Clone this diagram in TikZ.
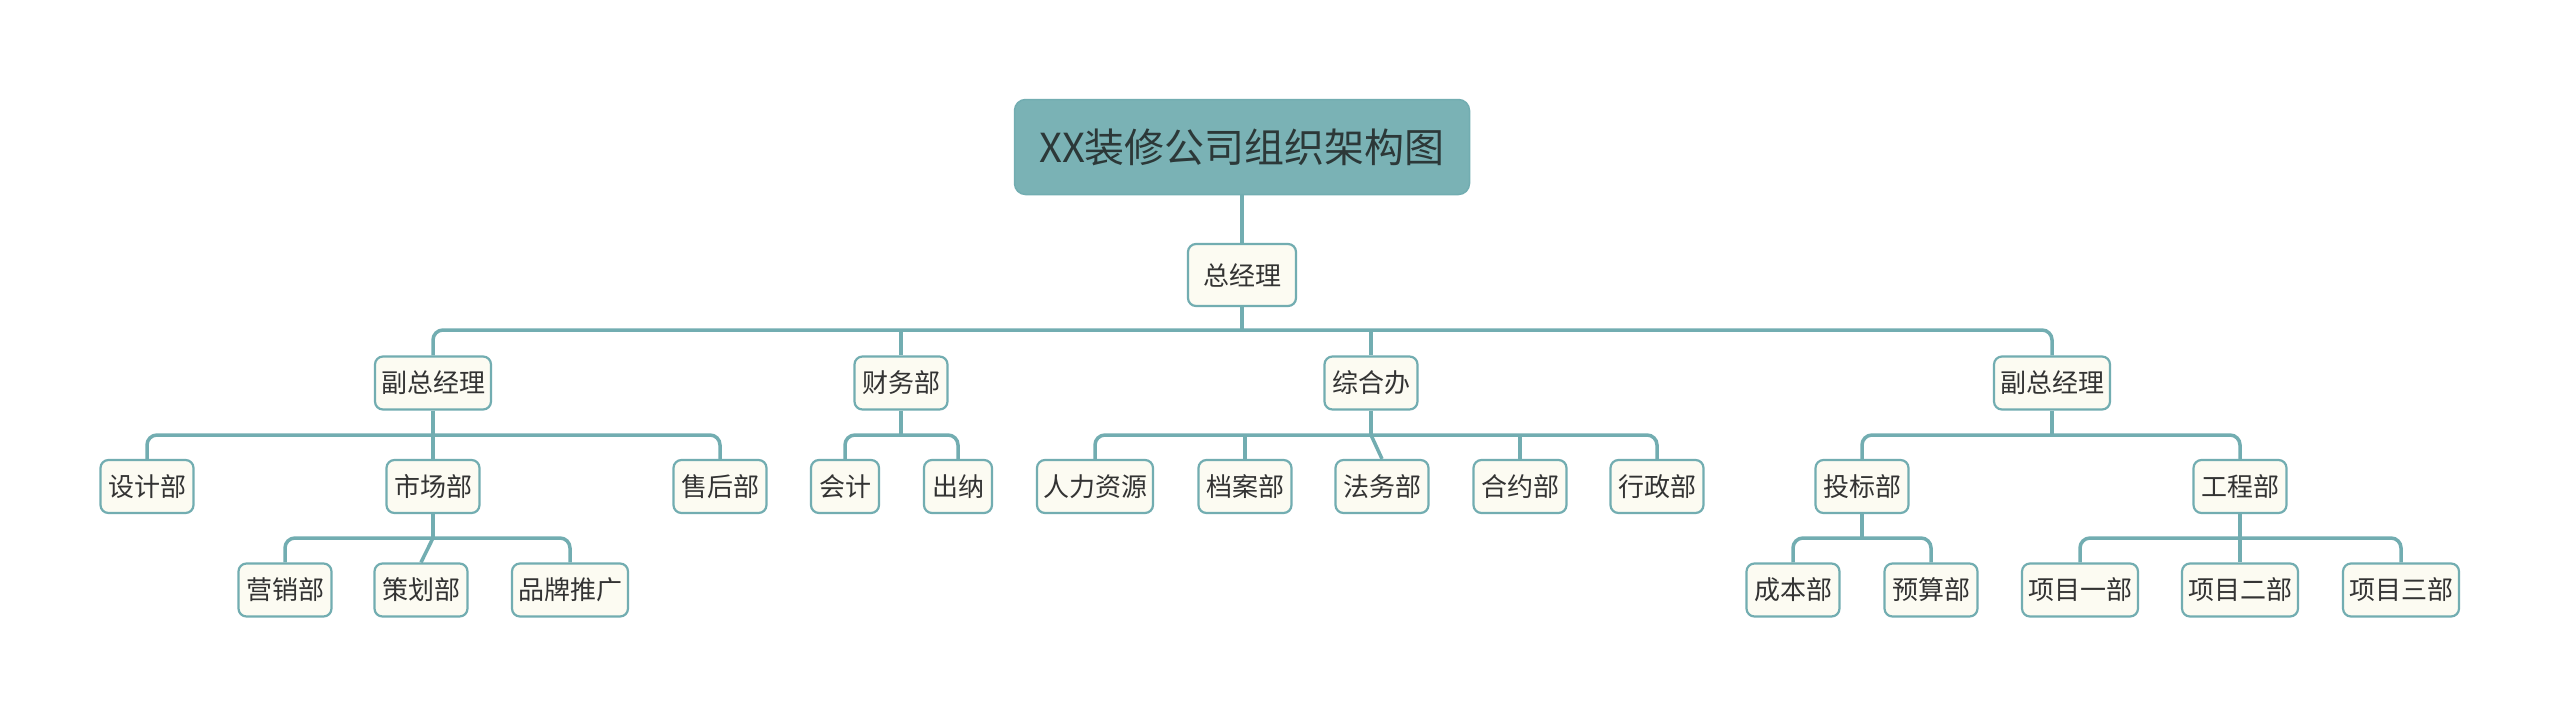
\documentclass[tikz,border=0pt]{standalone}
\usepackage{fontspec}
\newfontfamily\cjk{Noto Sans CJK SC}
\definecolor{rootfill}{HTML}{7AB2B5}
\definecolor{linec}{HTML}{72ADB1}
\definecolor{cream}{HTML}{FCFBF2}
\definecolor{txt}{HTML}{333333}
\definecolor{roottxt}{HTML}{2C3838}
\pgfdeclarelayer{bg}
\pgfsetlayers{bg,main}
\begin{document}
\begin{tikzpicture}[x=1pt,y=-1pt,
  box/.style={draw=linec, line width=2.2pt, fill=cream, rounded corners=8pt,
    font=\cjk\fontsize{26}{30}\selectfont, text=txt, inner xsep=0pt, inner ysep=0pt,
    minimum height=53pt, minimum width=93pt},
  w2/.style={minimum width=68pt},
  w4/.style={minimum width=116pt},
  rootbox/.style={draw=linec, line width=1.5pt, fill=rootfill, rounded corners=11pt,
    font=\cjk\fontsize{40}{46}\selectfont, text=roottxt, inner sep=0pt,
    minimum width=455pt, minimum height=95pt},
  conn/.style={draw=linec, line width=3.5pt, rounded corners=10pt}]
\useasboundingbox (0,0) rectangle (2560,718);

\coordinate (b0) at (0,330);
\coordinate (b1) at (0,435);
\coordinate (b2) at (0,538);

\node[rootbox] (root) at (1242,147) {XX装修公司组织架构图};
\node[box, minimum width=108pt, minimum height=62pt] (gm) at (1242,275) {总经理};

\node[box,w4] (vp1) at (433,383) {副总经理};
\node[box] (fin) at (901,383) {财务部};
\node[box] (adm) at (1371,383) {综合办};
\node[box,w4] (vp2) at (2052,383) {副总经理};

\node[box] (des) at (147,486.5) {设计部};
\node[box] (mkt) at (433,486.5) {市场部};
\node[box] (aft) at (720,486.5) {售后部};
\node[box,w2] (acc) at (845,486.5) {会计};
\node[box,w2] (cash) at (958,486.5) {出纳};
\node[box,w4] (hr) at (1095,486.5) {人力资源};
\node[box] (arc) at (1245,486.5) {档案部};
\node[box] (law) at (1382,486.5) {法务部};
\node[box] (con) at (1520,486.5) {合约部};
\node[box] (xz) at (1657,486.5) {行政部};
\node[box] (bid) at (1862,486.5) {投标部};
\node[box] (eng) at (2240,486.5) {工程部};

\node[box] (sal) at (285,590) {营销部};
\node[box] (pla) at (421,590) {策划部};
\node[box,w4] (bra) at (570,590) {品牌推广};
\node[box] (cost) at (1793,590) {成本部};
\node[box] (bud) at (1931,590) {预算部};
\node[box,w4] (p1) at (2080,590) {项目一部};
\node[box,w4] (p2) at (2240,590) {项目二部};
\node[box,w4] (p3) at (2401,590) {项目三部};

\begin{pgfonlayer}{bg}
\fill[white] (0,0) rectangle (2560,718);
% root to general manager
\draw[conn] (root.south) -- (gm.north);
% general manager to level 1
\draw[conn] (gm.south) -- (gm.south |- b0);
\draw[conn] (vp1.north) -- (vp1.north |- b0) -- (vp2.north |- b0) -- (vp2.north);
\draw[conn] (fin.north) -- (fin.north |- b0);
\draw[conn] (adm.north) -- (adm.north |- b0);
% vp1
\draw[conn] (vp1.south) -- (mkt.north);
\draw[conn] (des.north) -- (des.north |- b1) -- (aft.north |- b1) -- (aft.north);
% market
\draw[conn] (mkt.south) -- (mkt.south |- b2);
\draw[conn] (sal.north) -- (sal.north |- b2) -- (bra.north |- b2) -- (bra.north);
\draw[conn] (mkt.south |- b2) -- (pla.north);
% finance
\draw[conn] (fin.south) -- (fin.south |- b1);
\draw[conn] (acc.north) -- (acc.north |- b1) -- (cash.north |- b1) -- (cash.north);
% admin
\draw[conn] (adm.south) -- (adm.south |- b1);
\draw[conn] (hr.north) -- (hr.north |- b1) -- (xz.north |- b1) -- (xz.north);
\draw[conn] (arc.north) -- (arc.north |- b1);
\draw[conn] (con.north) -- (con.north |- b1);
\draw[conn] (adm.south |- b1) -- (law.north);
% vp2
\draw[conn] (vp2.south) -- (vp2.south |- b1);
\draw[conn] (bid.north) -- (bid.north |- b1) -- (eng.north |- b1) -- (eng.north);
% bid
\draw[conn] (bid.south) -- (bid.south |- b2);
\draw[conn] (cost.north) -- (cost.north |- b2) -- (bud.north |- b2) -- (bud.north);
% engineering
\draw[conn] (eng.south) -- (p2.north);
\draw[conn] (p1.north) -- (p1.north |- b2) -- (p3.north |- b2) -- (p3.north);
\end{pgfonlayer}
\end{tikzpicture}
\end{document}
